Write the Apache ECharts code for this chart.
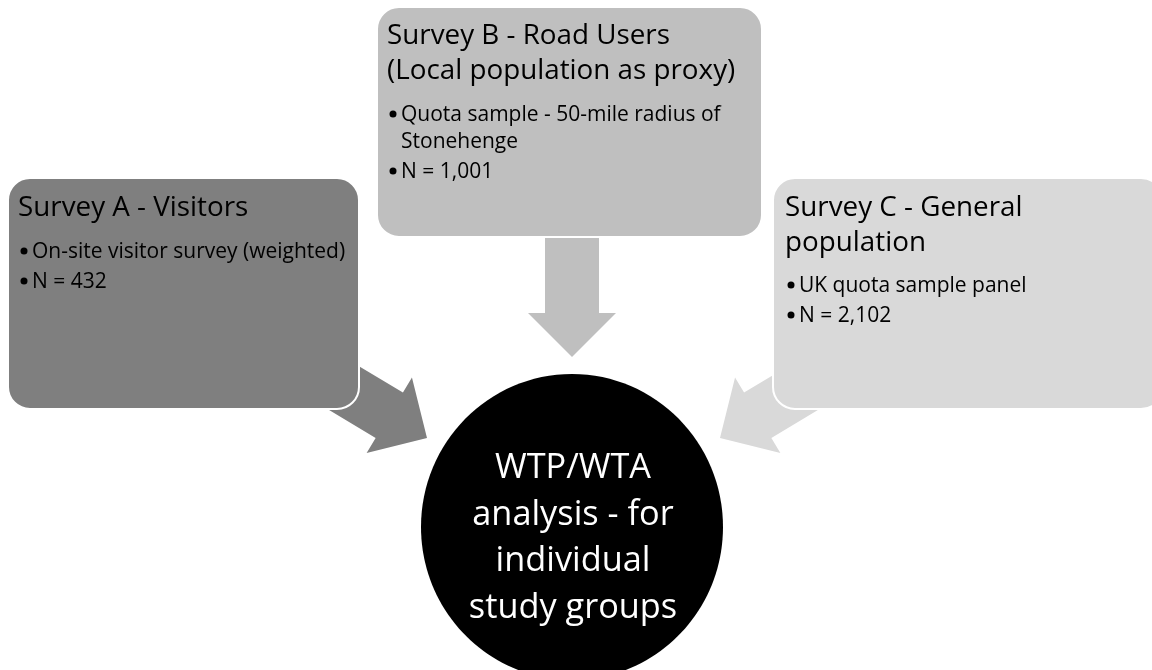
<!DOCTYPE html>
<html>
<head>
<meta charset="utf-8">
<script src="https://cdn.jsdelivr.net/npm/echarts@6/dist/echarts.min.js"></script>
<style>
html,body{margin:0;padding:0;background:#fff;}
#chart{width:1152px;height:670px;}
</style>
</head>
<body>
<div id="chart"></div>
<script>
// ---- content ----
const surveyTitles = [
  ["Survey A - Visitors"],
  ["Survey B - Road Users", "(Local population as proxy)"],
  ["Survey C - General", "population"]
];
const surveyBullets = [
  [["On-site visitor survey (weighted)"]],
  [["Quota sample - 50-mile radius of", "Stonehenge"]],
  [["UK quota sample panel"]]
];
const sampleSizes = [432, 1001, 2102];
const centerLines = ["WTP/WTA", "analysis - for", "individual", "study groups"];
const boxColors = ["#7f7f7f", "#bfbfbf", "#d9d9d9"];

// ---- layout ----
const FONT = "'Open Sans', Lato, sans-serif";
const boxes = [
  {x: 8, y: 178, w: 351, h: 231, tx: 18, titleBase: 216, bulletBase: 258},
  {x: 377, y: 7, w: 385, h: 230, tx: 387, titleBase: 44, bulletBase: 121},
  {x: 773, y: 178, w: 390, h: 231, tx: 785, titleBase: 216, bulletBase: 292}
];
const arrows = [
  {tip: [427, 438], angle: 31, shaftLen: 80, shaftW: 53, headLen: 44, headW: 88},
  {tip: [572, 357], angle: 90, shaftLen: 80, shaftW: 54, headLen: 44, headW: 88},
  {tip: [720, 438], angle: 149, shaftLen: 80, shaftW: 53, headLen: 44, headW: 88}
];
const TITLE_FS = 27.8, TITLE_LH = 35, BUL_FS = 21, BUL_LH = 30, WRAP_LH = 27, CENTER_FS = 34.3;
const CENTER_BASE = 479, CENTER_LH = 46.5;

function fmt(n) { return n.toLocaleString('en-GB'); }
function arrowPoints(a) {
  const r = a.angle * Math.PI / 180, ux = Math.cos(r), uy = Math.sin(r), px = -uy, py = ux;
  const base = [a.tip[0] - ux * a.headLen, a.tip[1] - uy * a.headLen];
  const tail = [base[0] - ux * a.shaftLen, base[1] - uy * a.shaftLen];
  const p = (c, s) => [c[0] + px * s, c[1] + py * s];
  return [a.tip, p(base, a.headW / 2), p(base, a.shaftW / 2), p(tail, a.shaftW / 2),
          p(tail, -a.shaftW / 2), p(base, -a.shaftW / 2), p(base, -a.headW / 2)];
}
function txt(text, x, base, fs, fill, align) {
  return {type: 'text', z: 10, style: {text: text, x: x, y: base - 0.3 * fs, fill: fill,
    fontSize: fs, fontFamily: FONT, align: align || 'left', verticalAlign: 'middle'}};
}

const elements = [];
arrows.forEach((a, i) => elements.push({type: 'polygon', z: 1, shape: {points: arrowPoints(a)},
  style: {fill: boxColors[i]}}));
boxes.forEach((b, i) => {
  elements.push({type: 'rect', z: 2, shape: {x: b.x, y: b.y, width: b.w, height: b.h, r: 22},
    style: {fill: boxColors[i], stroke: '#ffffff', lineWidth: 2}});
  surveyTitles[i].forEach((t, k) => elements.push(txt(t, b.tx, b.titleBase + k * TITLE_LH, TITLE_FS, '#000')));
  let y = b.bulletBase;
  const lines = [];
  surveyBullets[i].forEach(item => item.forEach((l, k) => lines.push({bullet: k === 0, text: l, last: k === item.length - 1})));
  lines.push({bullet: true, text: 'N = ' + fmt(sampleSizes[i]), last: true});
  lines.forEach(l => {
    if (l.bullet) elements.push({type: 'circle', z: 10, shape: {cx: b.tx + 6, cy: y - 7, r: 3.5}, style: {fill: '#000'}});
    elements.push(txt(l.text, b.tx + 14, y, BUL_FS, '#000'));
    y += l.last ? BUL_LH : WRAP_LH;
  });
});
elements.push({type: 'ellipse', z: 5, shape: {cx: 572, cy: 527, rx: 151, ry: 153}, style: {fill: '#000'}});
centerLines.forEach((l, k) => elements.push(txt(l, 573, CENTER_BASE + k * CENTER_LH, CENTER_FS, '#ffffff', 'center')));

const chart = echarts.init(document.getElementById('chart'), null, {renderer: 'canvas'});
chart.setOption({animation: false, graphic: {elements: elements}, series: []});
</script>
</body>
</html>
